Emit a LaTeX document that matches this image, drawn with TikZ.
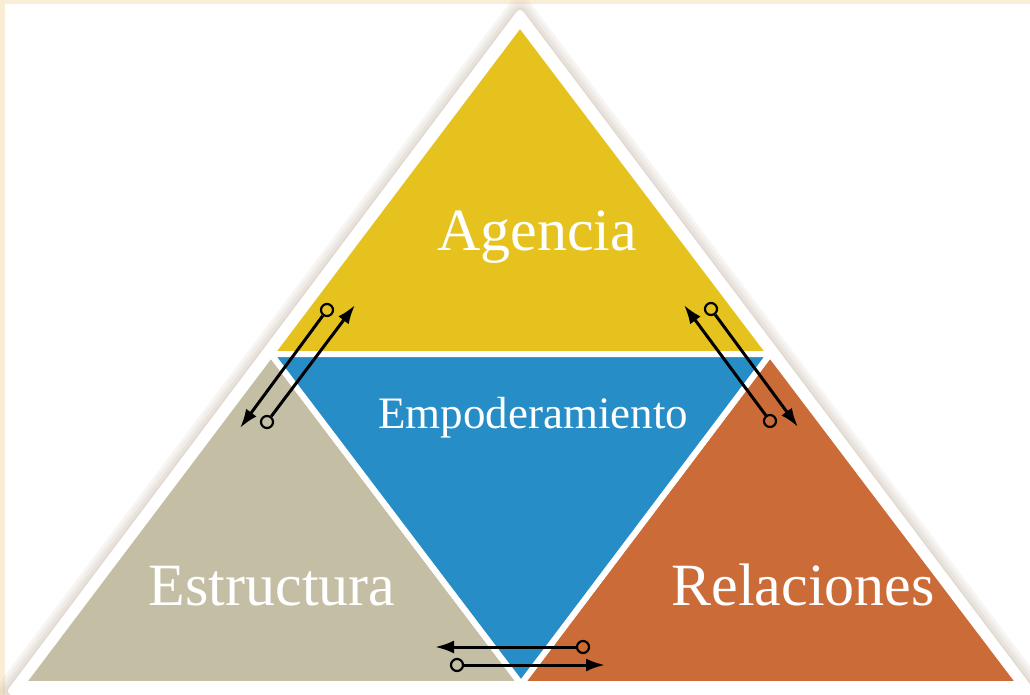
\documentclass[tikz,border=0pt]{standalone}
\usepackage{fontspec}
\setmainfont{Liberation Serif}
\usetikzlibrary{arrows.meta,calc}

\definecolor{cream}{HTML}{F9EDD6}
\definecolor{agency}{HTML}{E6C21E}
\definecolor{empower}{HTML}{268DC6}
\definecolor{structure}{HTML}{C4BFA4}
\definecolor{relation}{HTML}{CB6B37}

\tikzset{
    part/.style={draw=white,line width=6pt,line join=miter},
    label/.style={text=white,inner sep=0pt,anchor=base},
    flowline/.style={draw=black,line width=3pt,-{Latex[length=19pt,width=13pt]}},
    flowring/.style={circle,draw=black,line width=2.2pt,minimum size=12pt,inner sep=0pt}
}

\begin{document}
\begin{tikzpicture}[x=1pt,y=-1pt]
        \useasboundingbox (0,0) rectangle (1030,695);
        \fill[cream] (0,0) rectangle (1030,695);
        \fill[white] (5,4) rectangle (1030,695);
        % outer corners of the pyramid
        \coordinate (top) at (520,24);
        \coordinate (bl) at (22,684);
        \coordinate (br) at (1020,684);
        \coordinate (ml) at ($(top)!0.5!(bl)$);
        \coordinate (mr) at ($(top)!0.5!(br)$);
        \coordinate (mb) at ($(bl)!0.5!(br)$);
        % soft shadow and white rim
        \foreach \w in {30,24,18,12}
            \draw[brown!60!black,opacity=0.05,line width=\w pt,line join=round] (520,14) -- (12,691) -- (1030,691) -- cycle;
        \filldraw[white,line width=8pt,line join=round] (520,14) -- (12,691) -- (1030,691) -- cycle;
        % the four parts
        \filldraw[part,fill=agency] (top) -- (ml) -- (mr) -- cycle;
        \filldraw[part,fill=structure] (ml) -- (bl) -- (mb) -- cycle;
        \filldraw[part,fill=relation] (mr) -- (mb) -- (br) -- cycle;
        \filldraw[part,fill=empower] (ml) -- (mr) -- (mb) -- cycle;
        \node[label,font=\fontsize{60}{60}\selectfont] (agencia) at (537,250) {Agencia};
        \node[label,font=\fontsize{60}{60}\selectfont] (estructura) at (272,605) {Estructura};
        \node[label,font=\fontsize{60}{60}\selectfont] (relaciones) at (803,605) {Relaciones};
        \node[label,font=\fontsize{45}{45}\selectfont] (empoderamiento) at (533,428) {Empoderamiento};
        % arrows between the parts: ring at the start, head at the end
        \node[flowring] (la1) at (327,310) {};  \coordinate (lb1) at (240,428);
        \node[flowring] (la2) at (267,422) {};  \coordinate (lb2) at (355,305);
        \node[flowring] (ra1) at (770,421) {};  \coordinate (rb1) at (684,305);
        \node[flowring] (ra2) at (711,309) {};  \coordinate (rb2) at (798,427);
        \node[flowring] (ba1) at (583,647) {};  \coordinate (bb1) at (435,647);
        \node[flowring] (ba2) at (457,665) {};  \coordinate (bb2) at (605,665);
        \foreach \s/\e in {la1/lb1,la2/lb2,ra1/rb1,ra2/rb2,ba1/bb1,ba2/bb2}
            \draw[flowline] (\s) -- (\e);
\end{tikzpicture}
\end{document}
